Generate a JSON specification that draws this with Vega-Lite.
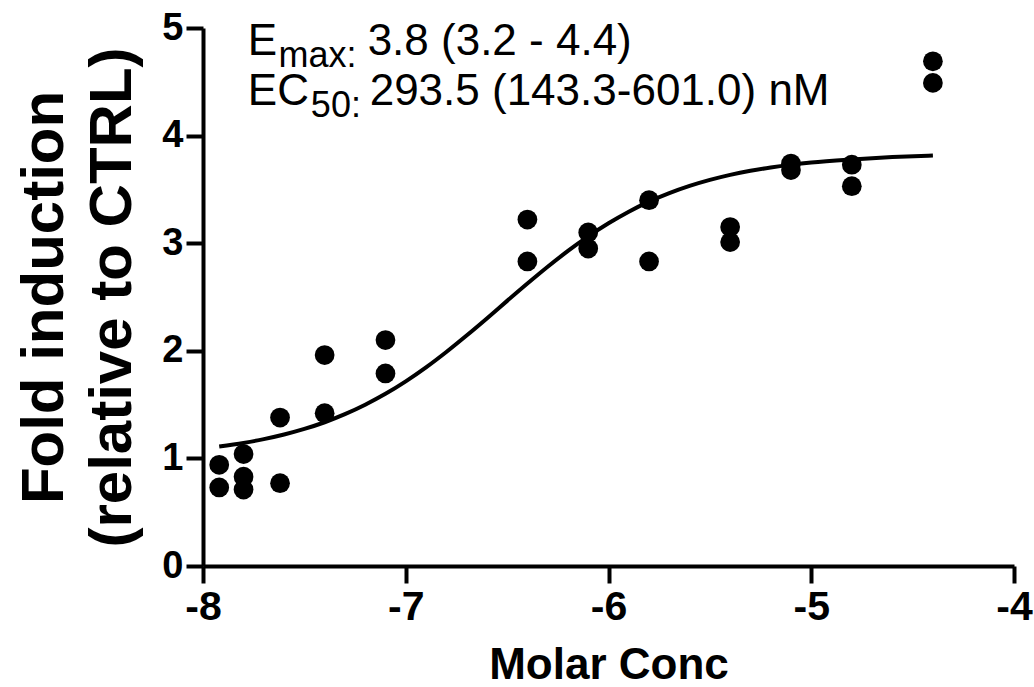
{
  "$schema": "https://vega.github.io/schema/vega-lite/v6.json",
  "width": 811,
  "height": 538,
  "autosize": {"type": "none"},
  "padding": {"left": 203, "top": 28, "right": 20, "bottom": 121},
  "background": "white",
  "config": {
    "view": {"stroke": null},
    "font": "Liberation Sans",
    "axis": {
      "grid": false,
      "domainColor": "black",
      "domainWidth": 4,
      "tickColor": "black",
      "tickWidth": 4,
      "tickSize": 17,
      "labelColor": "black",
      "titleColor": "black",
      "labelFont": "Liberation Sans",
      "titleFont": "Liberation Sans",
      "labelFontWeight": "bold",
      "titleFontWeight": "bold",
      "labelFlush": false,
      "labelOverlap": false
    }
  },
  "datasets": {
    "points": [
      {"logc": -7.92, "fold": 0.94}, {"logc": -7.92, "fold": 0.73},
      {"logc": -7.8, "fold": 1.04}, {"logc": -7.8, "fold": 0.83}, {"logc": -7.8, "fold": 0.71},
      {"logc": -7.62, "fold": 1.38}, {"logc": -7.62, "fold": 0.77},
      {"logc": -7.4, "fold": 1.96}, {"logc": -7.4, "fold": 1.42},
      {"logc": -7.1, "fold": 2.10}, {"logc": -7.1, "fold": 1.79},
      {"logc": -6.4, "fold": 3.22}, {"logc": -6.4, "fold": 2.83},
      {"logc": -6.1, "fold": 3.10}, {"logc": -6.1, "fold": 2.95},
      {"logc": -5.8, "fold": 3.40}, {"logc": -5.8, "fold": 2.83},
      {"logc": -5.4, "fold": 3.15}, {"logc": -5.4, "fold": 3.01},
      {"logc": -5.1, "fold": 3.74}, {"logc": -5.1, "fold": 3.68},
      {"logc": -4.8, "fold": 3.73}, {"logc": -4.8, "fold": 3.53},
      {"logc": -4.4, "fold": 4.69}, {"logc": -4.4, "fold": 4.49}
    ],
    "curve": [
      {"logc": -7.92, "fit": 1.111}, {"logc": -7.8, "fit": 1.144}, {"logc": -7.7, "fit": 1.179},
      {"logc": -7.6, "fit": 1.222}, {"logc": -7.5, "fit": 1.274}, {"logc": -7.4, "fit": 1.336},
      {"logc": -7.3, "fit": 1.411}, {"logc": -7.2, "fit": 1.499}, {"logc": -7.1, "fit": 1.600},
      {"logc": -7.0, "fit": 1.716}, {"logc": -6.9, "fit": 1.846}, {"logc": -6.8, "fit": 1.989},
      {"logc": -6.7, "fit": 2.142}, {"logc": -6.6, "fit": 2.301}, {"logc": -6.5, "fit": 2.464},
      {"logc": -6.4, "fit": 2.625}, {"logc": -6.3, "fit": 2.781}, {"logc": -6.2, "fit": 2.928},
      {"logc": -6.1, "fit": 3.063}, {"logc": -6.0, "fit": 3.185}, {"logc": -5.9, "fit": 3.293},
      {"logc": -5.8, "fit": 3.386}, {"logc": -5.7, "fit": 3.465}, {"logc": -5.6, "fit": 3.532},
      {"logc": -5.5, "fit": 3.588}, {"logc": -5.4, "fit": 3.635}, {"logc": -5.3, "fit": 3.673},
      {"logc": -5.2, "fit": 3.703}, {"logc": -5.1, "fit": 3.728}, {"logc": -5.0, "fit": 3.749},
      {"logc": -4.8, "fit": 3.778}, {"logc": -4.6, "fit": 3.800}, {"logc": -4.4, "fit": 3.815}
    ],
    "letters": [
      {"logc": -7.779, "pos": 4.75, "label": "E"},
      {"logc": -7.779, "pos": 4.28, "label": "EC"}
    ],
    "subs": [
      {"logc": -7.628, "pos": 4.64, "label": "max:"},
      {"logc": -7.468, "pos": 4.17, "label": "50:"}
    ],
    "values": [
      {"logc": -7.188, "pos": 4.75, "label": "3.8 (3.2 - 4.4)"},
      {"logc": -7.178, "pos": 4.28, "label": "293.5 (143.3-601.0) nM"}
    ]
  },
  "layer": [
    {
      "data": {"name": "curve"},
      "mark": {"type": "line", "color": "black", "strokeWidth": 4, "interpolate": "monotone"},
      "encoding": {
        "x": {
          "field": "logc", "type": "quantitative",
          "scale": {"domain": [-8, -4], "nice": false, "zero": false},
          "axis": {
            "values": [-8, -7, -6, -5, -4],
            "labelExpr": "'' + datum.value",
            "labelFontSize": 41,
            "labelPadding": 4,
            "title": "Molar Conc",
            "titleFontSize": 44,
            "titlePadding": 16
          }
        },
        "y": {
          "field": "fit", "type": "quantitative",
          "scale": {"domain": [0, 5], "nice": false},
          "axis": {
            "values": [0, 1, 2, 3, 4, 5],
            "labelExpr": "'' + datum.value",
            "labelFontSize": 38,
            "labelPadding": 3,
            "title": ["Fold induction", "(relative to CTRL)"],
            "titleFontSize": 60,
            "titleLineHeight": 68,
            "titlePadding": 18
          }
        }
      }
    },
    {
      "data": {"name": "points"},
      "mark": {"type": "circle", "color": "black", "opacity": 1, "size": 390},
      "encoding": {
        "x": {"field": "logc", "type": "quantitative"},
        "y": {"field": "fold", "type": "quantitative"}
      }
    },
    {
      "data": {"name": "letters"},
      "mark": {"type": "text", "align": "left", "baseline": "alphabetic", "fontSize": 44, "color": "black"},
      "encoding": {
        "x": {"field": "logc", "type": "quantitative"},
        "y": {"field": "pos", "type": "quantitative"},
        "text": {"field": "label"}
      }
    },
    {
      "data": {"name": "subs"},
      "mark": {"type": "text", "align": "left", "baseline": "alphabetic", "fontSize": 36, "color": "black"},
      "encoding": {
        "x": {"field": "logc", "type": "quantitative"},
        "y": {"field": "pos", "type": "quantitative"},
        "text": {"field": "label"}
      }
    },
    {
      "data": {"name": "values"},
      "mark": {"type": "text", "align": "left", "baseline": "alphabetic", "fontSize": 44, "color": "black"},
      "encoding": {
        "x": {"field": "logc", "type": "quantitative"},
        "y": {"field": "pos", "type": "quantitative"},
        "text": {"field": "label"}
      }
    }
  ]
}
